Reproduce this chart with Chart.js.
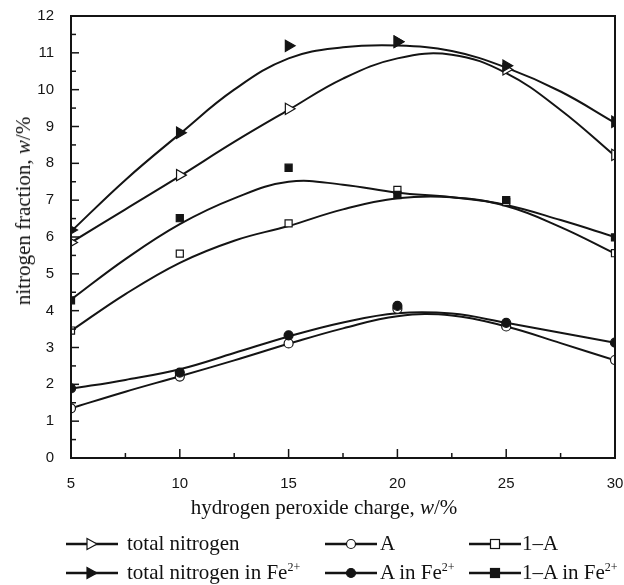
<!DOCTYPE html>
<html>
<head>
<meta charset="utf-8">
<script src="https://cdn.jsdelivr.net/npm/chart.js@4"></script>
<style>
  body { margin: 0; background: #fff; }
  #wrap { position: relative; width: 624px; height: 585px; }
  .lbl { position: absolute; font-family: "Liberation Serif", "Times New Roman", serif; font-size: 21px; color: #111; white-space: nowrap; line-height: 24px; }
  .lbl sup { font-size: 12px; vertical-align: 8px; line-height: 0; }
  .mk { position: absolute; }
</style>
</head>
<body>
<div id="wrap">
  <canvas id="chart_n" width="624" height="585"></canvas>
  <div class="lbl" style="left:324px; top:495px; transform:translateX(-50%);">hydrogen peroxide charge, <i>w</i>/%</div>
  <div class="lbl" style="left:23px; top:211px; transform:translate(-50%,-50%) rotate(-90deg);">nitrogen fraction, <i>w</i>/%</div>
  <div id="legend"></div>
</div>
<script>
// Data
x_values = [5, 10, 15, 20, 25, 30]
total_n = [5.85, 7.68, 9.48, 11.3, 10.55, 8.23]
total_n_fe = [6.19, 8.83, 11.19, 11.3, 10.65, 9.13]
a_vals = [1.35, 2.21, 3.11, 4.05, 3.57, 2.66]
a_fe = [1.89, 2.32, 3.33, 4.13, 3.67, 3.13]
one_a = [3.46, 5.55, 6.37, 7.28, 6.95, 5.56]
one_a_fe = [4.28, 6.51, 7.88, 7.14, 7.0, 5.99]

// fitted curves
fit_x = [5, 7.5, 10, 12.5, 15, 17.5, 20, 22.5, 25, 27.5, 30]
fit_total_n = [5.85, 6.75, 7.65, 8.58, 9.45, 10.3, 10.85, 10.95, 10.45, 9.45, 8.2]
fit_total_n_fe = [6.15, 7.55, 8.8, 10.0, 10.85, 11.15, 11.2, 11.05, 10.6, 9.95, 9.1]
fit_a = [1.35, 1.8, 2.22, 2.65, 3.1, 3.52, 3.85, 3.87, 3.57, 3.12, 2.65]
fit_a_fe = [1.88, 2.12, 2.41, 2.85, 3.3, 3.68, 3.93, 3.92, 3.67, 3.4, 3.13]
fit_one_a = [3.45, 4.45, 5.3, 5.9, 6.3, 6.75, 7.05, 7.08, 6.84, 6.27, 5.55]
fit_one_a_fe = [4.3, 5.4, 6.35, 7.05, 7.5, 7.42, 7.2, 7.08, 6.87, 6.46, 6.0]

x_ticks = [5, 10, 15, 20, 25, 30]
y_ticks = [0, 1, 2, 3, 4, 5, 6, 7, 8, 9, 10, 11, 12]

series_names = ["total nitrogen", "A", "1\u2013A", "total nitrogen in Fe<sup>2+</sup>", "A in Fe<sup>2+</sup>", "1\u2013A in Fe<sup>2+</sup>"]

var ink = "#141414"

function pts(ys) { return x_values.map(function (x, i) { return {x: x, y: ys[i]} }) }
function fit(ys) { return fit_x.map(function (x, i) { return {x: x, y: ys[i]} }) }

// filled markers sit on top of the open ones (lower order = drawn last)
function markers(label, ys, style, filled, r) {
  return {
    type: 'scatter', label: label, data: pts(ys), order: filled ? 0 : 1, clip: 0,
    pointStyle: style, rotation: style == 'triangle' ? 90 : 0,
    pointRadius: r, pointBorderWidth: 1.2,
    pointBackgroundColor: filled ? ink : "#fff", pointBorderColor: ink
  }
}
function curve(ys) {
  return {
    type: 'line', data: fit(ys), order: 2, clip: 0,
    borderColor: ink, borderWidth: 2, pointRadius: 0, tension: 0.4, fill: false
  }
}

// inward ticks and the frame
var frame = {
  id: 'frame',
  afterDatasetsDraw: function (chart) {
    var ctx = chart.ctx, a = chart.chartArea, sx = chart.scales.x, sy = chart.scales.y
    ctx.save()
    ctx.strokeStyle = ink
    ctx.lineWidth = 1.5
    for (var v = 5; v <= 30; v += 2.5) {
      var px = sx.getPixelForValue(v), len = v % 5 == 0 ? 9 : 5
      ctx.beginPath(); ctx.moveTo(px, a.bottom); ctx.lineTo(px, a.bottom - len); ctx.stroke()
    }
    for (var w = 0; w <= 12; w += 0.5) {
      var py = sy.getPixelForValue(w), l2 = w % 1 == 0 ? 8 : 5
      ctx.beginPath(); ctx.moveTo(a.left, py); ctx.lineTo(a.left + l2, py); ctx.stroke()
    }
    ctx.lineWidth = 2
    ctx.strokeRect(a.left, a.top, a.right - a.left, a.bottom - a.top)
    ctx.restore()
  }
}

var tick_font = {family: "'Liberation Sans', Arial, sans-serif", size: 15}

var config = {
  type: 'scatter',
  data: {
    datasets: [
      markers(series_names[0], total_n, 'triangle', false, 6.5),
      markers(series_names[1], a_vals, 'circle', false, 4.5),
      markers(series_names[2], one_a, 'rect', false, 5),
      markers(series_names[3], total_n_fe, 'triangle', true, 6.5),
      markers(series_names[4], a_fe, 'circle', true, 4.5),
      markers(series_names[5], one_a_fe, 'rect', true, 5),
      curve(fit_total_n), curve(fit_a), curve(fit_one_a),
      curve(fit_total_n_fe), curve(fit_a_fe), curve(fit_one_a_fe)
    ]
  },
  options: {
    responsive: false,
    animation: false,
    devicePixelRatio: 1,
    layout: {padding: {left: 0, right: 9, top: 16, bottom: 97}},
    plugins: {legend: {display: false}, tooltip: {enabled: false}},
    scales: {
      x: {
        type: 'linear', min: 5, max: 30,
        afterBuildTicks: function (s) { s.ticks = x_ticks.map(function (v) { return {value: v} }) },
        afterFit: function (s) { s.height = 30; s.paddingLeft = 0; s.paddingRight = 0 },
        grid: {display: false}, border: {display: false},
        ticks: {font: tick_font, color: ink, padding: 9, maxRotation: 0}
      },
      y: {
        type: 'linear', min: 0, max: 12,
        afterBuildTicks: function (s) { s.ticks = y_ticks.map(function (v) { return {value: v} }) },
        afterFit: function (s) { s.width = 71; s.paddingTop = 0; s.paddingBottom = 0 },
        grid: {display: false}, border: {display: false},
        ticks: {font: tick_font, color: ink, padding: 9}
      }
    }
  },
  plugins: [frame]
}

var ctx = document.getElementById("chart_n")
var ch_n = new Chart(ctx, config)

// Legend
var leg_cols = [[66, 127], [325, 380], [469, 522]]
var leg_rows = [544, 573]
var leg_marks = ['tri', 'circ', 'sq']
function mark_svg(kind, filled) {
  var f = filled ? ink : "#fff", s = '<line x1="0" y1="8" x2="52" y2="8" stroke="' + ink + '" stroke-width="2.5"/>'
  if (kind == 'tri') s += '<polygon points="21,2.5 31,8 21,13.5" fill="' + f + '" stroke="' + ink + '" stroke-width="1.2"/>'
  if (kind == 'circ') s += '<circle cx="26" cy="8" r="4.5" fill="' + f + '" stroke="' + ink + '" stroke-width="1.2"/>'
  if (kind == 'sq') s += '<rect x="21.5" y="3.5" width="9" height="9" fill="' + f + '" stroke="' + ink + '" stroke-width="1.2"/>'
  return '<svg width="52" height="16">' + s + '</svg>'
}
var html = ""
for (var r = 0; r < 2; r++) {
  for (var c = 0; c < 3; c++) {
    var y = leg_rows[r]
    html += '<div class="mk" style="left:' + leg_cols[c][0] + 'px;top:' + (y - 8) + 'px">' + mark_svg(leg_marks[c], r == 1) + '</div>'
    html += '<div class="lbl" style="left:' + leg_cols[c][1] + 'px;top:' + (y - 13) + 'px">' + series_names[r * 3 + c] + '</div>'
  }
}
document.getElementById("legend").innerHTML = html
</script>
</body>
</html>
